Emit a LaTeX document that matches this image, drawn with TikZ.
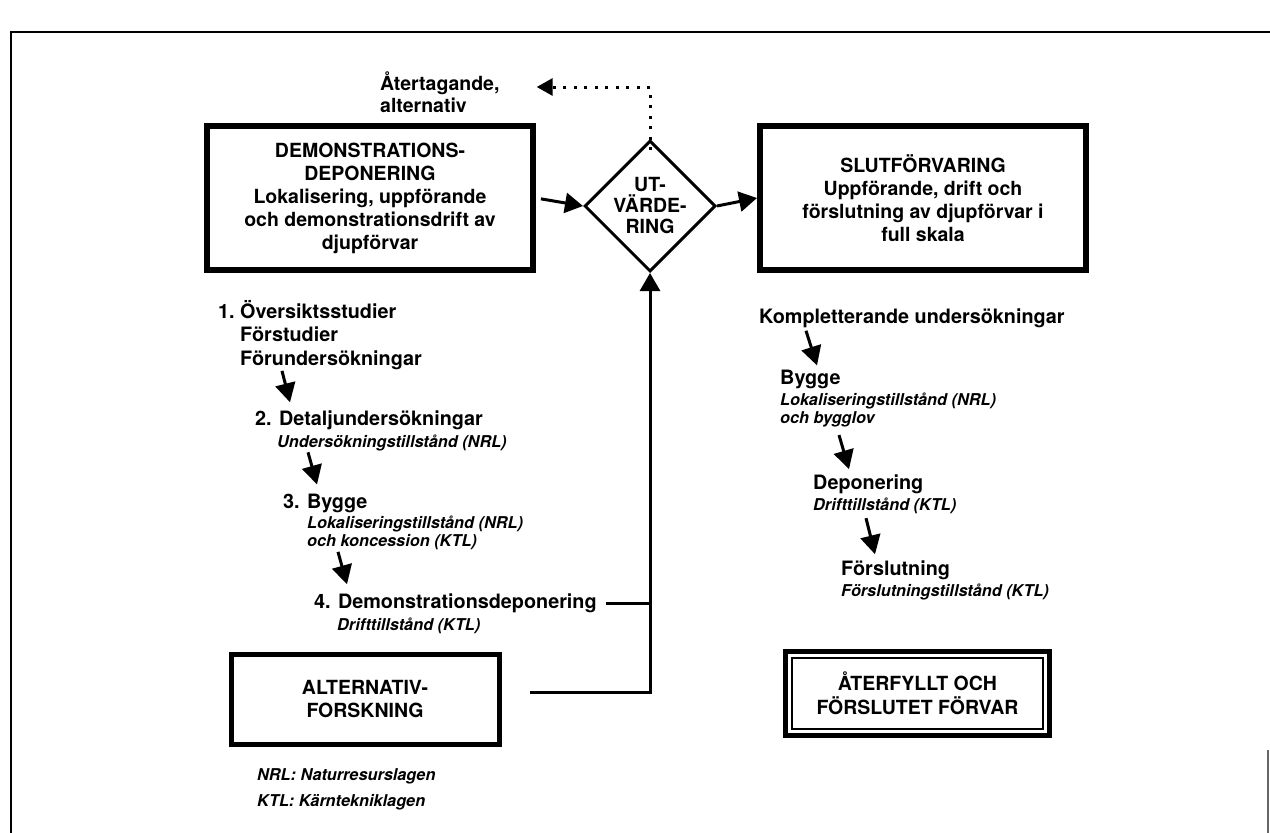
\documentclass[tikz,border=0pt]{standalone}
\usepackage{fontspec}
\setmainfont{TeX Gyre Heros}
\usetikzlibrary{positioning,arrows.meta,shapes.geometric,calc}

\begin{document}
\begin{tikzpicture}[
            x=1pt, y=-1pt,
            font=\bfseries\fontsize{19.5}{23}\selectfont,
            >={Triangle[length=18pt,width=20pt]},
            bigbox/.style={
                    draw, line width=6pt,
                    minimum width=326pt, minimum height=144pt,
                    align=center, inner sep=0pt
                },
            smallbox/.style={
                    draw, line width=5pt,
                    minimum width=268pt, minimum height=90pt,
                    align=center, inner sep=0pt,
                    font=\bfseries\fontsize{19.5}{24}\selectfont
                },
            evalshape/.style={draw, diamond, line width=3pt, minimum size=131pt, inner sep=0pt},
            steplabel/.style={anchor=west, inner sep=0pt, align=left,
                    font=\bfseries\fontsize{19.8}{23.5}\selectfont},
            permit/.style={anchor=west, inner sep=0pt, align=left,
                    font=\bfseries\itshape\fontsize{16.3}{17.5}\selectfont},
            flow/.style={->, line width=3pt},
            stepar/.style={->, line width=3pt, >={Triangle[length=19pt,width=20pt]}},
            retarrow/.style={->, line width=3pt, dash pattern=on 3pt off 7.5pt,
                    >={Triangle[length=16pt,width=17pt]}},
            ]
            \useasboundingbox (0,0) rectangle (1270,833);

            % frame of the scanned page
            \draw[line width=2pt] (11,833) -- (11,32) -- (1270,32);
            \draw[line width=1.5pt, black!60] (1268,750) -- (1268,833);

            % main row
            \node[bigbox] (demo) at (370,198) {DEMONSTRATIONS-\\DEPONERING\\Lokalisering, uppförande\\och demonstrationsdrift av\\djupförvar};
            \node[evalshape] (eval) at (650,206) {};
            \node[inner sep=0pt, align=center, font=\bfseries\fontsize{19.5}{21}\selectfont] (evaltext) at (eval) {UT-\\VÄRDE-\\RING};
            \node[bigbox] (slut) at (923,198) {SLUTFÖRVARING\\Uppförande, drift och\\förslutning av djupförvar i\\full skala};
            \node[steplabel, font=\bfseries\fontsize{19.5}{22}\selectfont] (ret) at (380,92) {Återtagande,\\alternativ};

            \draw[flow, shorten <=5pt] (demo.east) -- (eval.west);
            \draw[flow] (eval.east) -- (slut.west);
            \draw[retarrow] ([yshift=-11pt]eval.north) |- ([xshift=37pt,yshift=5pt]ret.east);

            % left column: steps of the demonstration phase
            \node[steplabel] (s1) at (218,335) {1.~Översiktsstudier\\\hphantom{1.~}Förstudier\\\hphantom{1.~}Förundersökningar};
            \node[steplabel] (s2) at (255,420) {2. Detaljundersökningar};
            \node[permit] (p2) at (277,443) {Undersökningstillstånd (NRL)};
            \node[steplabel] (s3) at (283,503) {3. Bygge};
            \node[permit] (p3) at (307,533) {Lokaliseringstillstånd (NRL)\\och koncession (KTL)};
            \node[steplabel] (s4) at (314,603) {4. Demonstrationsdeponering};
            \node[permit] (p4) at (337,626) {Drifttillstånd (KTL)};

            \draw[stepar] ([xshift=64pt,yshift=-1pt]s1.south west) -- ([xshift=35pt,yshift=8pt]s2.north west);
            \draw[stepar] ([xshift=31pt,yshift=-1pt]p2.south west) -- ([xshift=34pt,yshift=9pt]s3.north west);
            \draw[stepar] ([xshift=31pt,yshift=-2pt]p3.south west) -- ([xshift=33pt,yshift=9pt]s4.north west);

            \node[smallbox] (alt) at (365,699) {ALTERNATIV-\\FORSKNING};

            \draw[line width=3pt] ([xshift=9pt]s4.east) -- (s4.east -| eval.south);
            \draw[flow] ([xshift=28pt,yshift=7pt]alt.east) -| (eval.south);

            \node[permit, font=\bfseries\itshape\fontsize{16.3}{26}\selectfont] (legend) at (257,789) {NRL: Naturresurslagen\\KTL: Kärntekniklagen};

            % right column: steps of the final repository
            \node[steplabel] (k) at (759,318) {Kompletterande undersökningar};
            \node[steplabel] (b1) at (780,379) {Bygge};
            \node[permit] (b1p) at (780,410) {Lokaliseringstillstånd (NRL)\\och bygglov};
            \node[steplabel] (dep) at (813,484) {Deponering};
            \node[permit] (depp) at (813,506) {Drifttillstånd (KTL)};
            \node[steplabel] (fors) at (841,570) {Förslutning};
            \node[permit] (forsp) at (841,592) {Förslutningstillstånd (KTL)};

            \draw[stepar] ([xshift=47pt,yshift=-3pt]k.south west) -- ([xshift=37pt,yshift=4pt]b1.north west);
            \draw[stepar] ([xshift=59pt,yshift=-8pt]b1p.south west) -- ([xshift=36pt,yshift=5pt]dep.north west);
            \draw[stepar] ([xshift=53pt,yshift=-4pt]depp.south west) -- ([xshift=34pt,yshift=6pt]fors.north west);

            \node[smallbox, minimum width=264pt, minimum height=84pt] (fill) at (917.5,693.5) {ÅTERFYLLT OCH\\FÖRSLUTET FÖRVAR};
            \draw[line width=1.5pt] ([shift={(9pt,-9pt)}]fill.north west) rectangle ([shift={(-9pt,9pt)}]fill.south east);
        \end{tikzpicture}
\end{document}
